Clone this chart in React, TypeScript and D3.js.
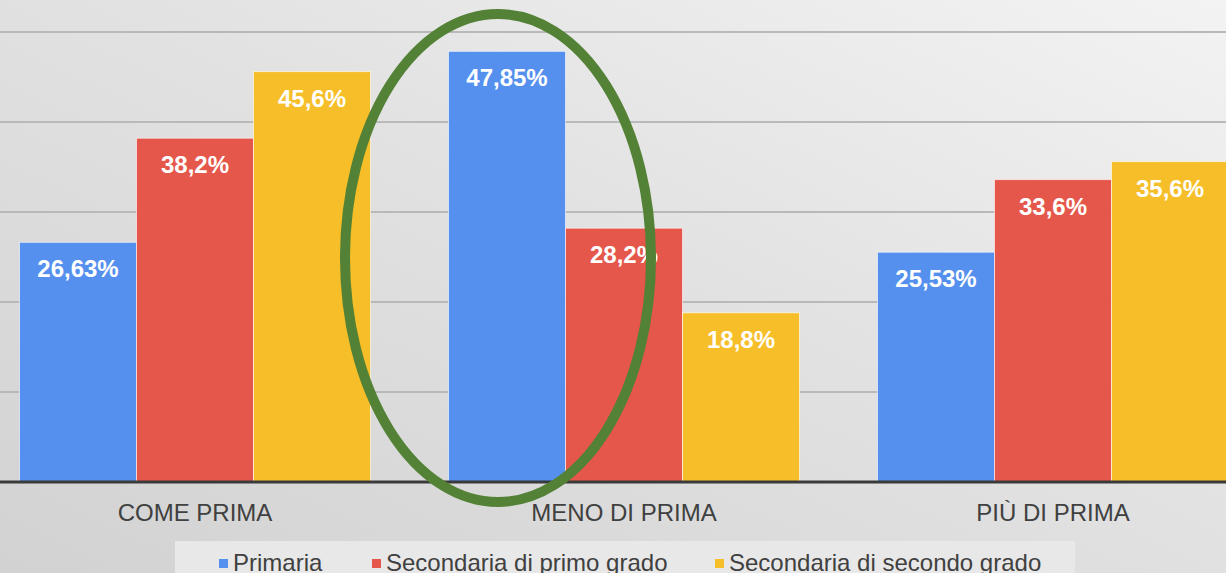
import * as d3 from 'd3';
import React, { useRef, useEffect } from 'react';

const categories = ['COME PRIMA', 'MENO DI PRIMA', 'PIÙ DI PRIMA'];
const seriesNames = ['Primaria', 'Secondaria di primo grado', 'Secondaria di secondo grado'];
const primaria = [26.63, 47.85, 25.53];
const primoGrado = [38.2, 28.2, 33.6];
const secondoGrado = [45.6, 18.8, 35.6];
const labelsPrimaria = ['26,63%', '47,85%', '25,53%'];
const labelsPrimo = ['38,2%', '28,2%', '33,6%'];
const labelsSecondo = ['45,6%', '18,8%', '35,6%'];
const gridTicks = [10, 20, 30, 40, 50];
const colors = ['#5590ee', '#e5574b', '#f6be28'];

function App() {
  const ref = useRef(null);
  const width = 1226, height = 573;

  useEffect(() => {
    const svg = d3.select(ref.current);
    svg.selectAll('*').remove();

    const font = 'Liberation Sans, Arial, sans-serif';
    const baseY = 482;

    // background gradient
    const defs = svg.append('defs');
    const grad = defs.append('linearGradient')
      .attr('id', 'bg').attr('x1', '0').attr('y1', '1').attr('x2', '1').attr('y2', '0');
    grad.append('stop').attr('offset', '0%').attr('stop-color', '#d2d2d2');
    grad.append('stop').attr('offset', '55%').attr('stop-color', '#e2e2e2');
    grad.append('stop').attr('offset', '100%').attr('stop-color', '#f3f3f3');
    svg.append('rect').attr('width', width).attr('height', height).attr('fill', 'url(#bg)');

    const y = d3.scaleLinear().domain([0, 10]).range([baseY, baseY - 90]);

    const x0 = d3.scaleBand().domain(categories).range([-19.5, 1267.5]).padding(0);
    const x1 = d3.scaleBand().domain(seriesNames)
      .range([39, x0.bandwidth() - 39]).padding(0);

    // gridlines
    svg.append('g').selectAll('line').data(gridTicks).enter().append('line')
      .attr('x1', 0).attr('x2', width)
      .attr('y1', d => y(d)).attr('y2', d => y(d))
      .attr('stroke', '#b9b9b9').attr('stroke-width', 2);

    const rows = categories.map((c, i) => ({
      cat: c,
      vals: [primaria[i], primoGrado[i], secondoGrado[i]],
      labels: [labelsPrimaria[i], labelsPrimo[i], labelsSecondo[i]],
    }));

    const groups = svg.selectAll('.cat').data(rows).enter().append('g')
      .attr('class', 'cat')
      .attr('transform', d => `translate(${x0(d.cat)},0)`);

    const bars = groups.selectAll('.bar')
      .data(d => d.vals.map((v, j) => ({ v, j, label: d.labels[j] })))
      .enter();

    bars.append('rect')
      .attr('x', d => x1(seriesNames[d.j]))
      .attr('y', d => y(d.v))
      .attr('width', x1.bandwidth())
      .attr('height', d => baseY - y(d.v))
      .attr('fill', d => colors[d.j])
      .attr('stroke', 'rgba(255,255,255,0.6)')
      .attr('stroke-width', 1);

    bars.append('text')
      .attr('x', d => x1(seriesNames[d.j]) + x1.bandwidth() / 2)
      .attr('y', d => y(d.v) + 35)
      .attr('text-anchor', 'middle')
      .style('font-family', font)
      .style('font-weight', 'bold')
      .style('font-size', '24px')
      .attr('fill', '#ffffff')
      .text(d => d.label);

    // axis baseline
    svg.append('line')
      .attr('x1', 0).attr('x2', width).attr('y1', baseY).attr('y2', baseY)
      .attr('stroke', '#3a3a3a').attr('stroke-width', 3);

    // category labels
    svg.append('g').selectAll('text').data(categories).enter().append('text')
      .attr('x', d => x0(d) + x0.bandwidth() / 2)
      .attr('y', 521)
      .attr('text-anchor', 'middle')
      .style('font-family', font)
      .style('font-size', '24px')
      .attr('fill', '#404040')
      .text(d => d);

    // legend
    svg.append('rect').attr('x', 175).attr('y', 541).attr('width', 900).attr('height', 40)
      .attr('fill', '#e8e8e8');
    const legendX = [219, 372, 715];
    const leg = svg.append('g').selectAll('g').data(seriesNames).enter().append('g')
      .attr('transform', (d, i) => `translate(${legendX[i]},0)`);
    leg.append('rect').attr('x', 0).attr('y', 559).attr('width', 9).attr('height', 9)
      .attr('fill', (d, i) => colors[i]);
    leg.append('text').attr('x', 14).attr('y', 571)
      .style('font-family', font).style('font-size', '24px')
      .attr('fill', '#404040')
      .text(d => d);

    // highlight ellipse
    svg.append('ellipse')
      .attr('cx', 498).attr('cy', 258).attr('rx', 153).attr('ry', 244)
      .attr('fill', 'none').attr('stroke', '#538135').attr('stroke-width', 10);
  }, []);

  return (
    <div style={{ position: 'fixed', left: 0, top: 0 }}>
      <svg ref={ref} width={width} height={height} style={{ display: 'block' }}></svg>
    </div>
  );
}

export default App;
